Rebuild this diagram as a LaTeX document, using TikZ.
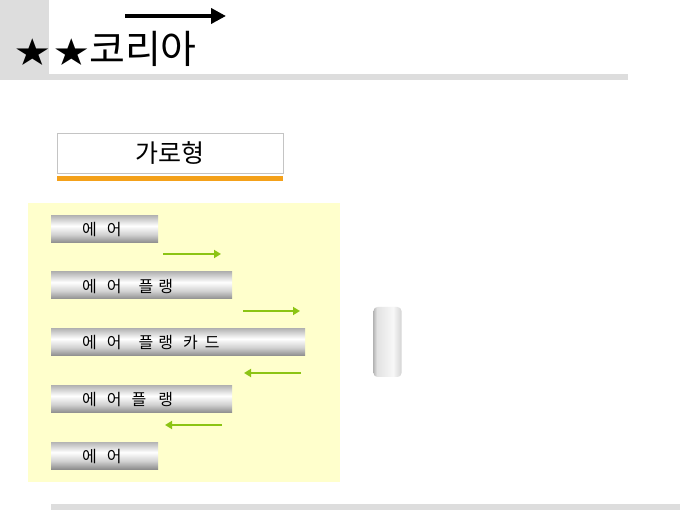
\documentclass[tikz,border=0pt]{standalone}
\usepackage{fontspec}
\newfontfamily\kr{Noto Sans CJK KR}
\newfontfamily\krs[FakeStretch=1.15]{Noto Sans CJK KR}
\usetikzlibrary{arrows.meta}
\definecolor{lgray}{HTML}{DDDDDD}
\definecolor{bgyellow}{HTML}{FFFFCC}
\definecolor{orangebar}{HTML}{F4A11A}
\definecolor{boxline}{HTML}{C4C4C4}
\definecolor{arrgreen}{HTML}{8CC414}
\definecolor{bD}{HTML}{8E8E8E}
\definecolor{bM}{HTML}{D2D2D2}
\definecolor{bT}{HTML}{B4B4B4}
\definecolor{cL}{HTML}{B8B8B8}
\definecolor{cM}{HTML}{E2E2E2}
\definecolor{cR}{HTML}{D4D4D4}
\pgfdeclareverticalshading{barshade}{100bp}{color(0bp)=(bD); color(25bp)=(bD); color(40bp)=(bM); color(56bp)=(white); color(75bp)=(bT); color(100bp)=(bT)}
\pgfdeclarehorizontalshading{cylshade}{100bp}{color(0bp)=(cL); color(25bp)=(cL); color(31bp)=(cM); color(60bp)=(white!97!black); color(75bp)=(cR); color(100bp)=(cR)}
\newcommand{\gp}[1]{\hspace{#1pt}}
\begin{document}
\begin{tikzpicture}[x=1pt,y=-1pt,
  barbox/.style={shading=barshade, draw=none, inner sep=0pt, minimum height=27pt, anchor=west},
  lbl/.style={font=\kr\fontsize{16pt}{18pt}\selectfont, inner sep=0pt, anchor=west},
  garrow/.style={draw=arrgreen, line width=2.5pt, -{Triangle[length=7pt,width=8pt]}}]
\useasboundingbox (0,0) rectangle (680,510);
\fill[white] (0,0) rectangle (680,510);
% header
\fill[lgray] (0,0) rectangle (49,74);
\fill[lgray] (0,74) rectangle (628,80);
\coordinate (ha) at (125,16);
\coordinate (hb) at (226,16);
\draw[line width=4pt, -{Triangle[length=15pt,width=15pt]}] (ha) -- (hb);
\node[anchor=base west, inner sep=0pt] (title) at (15,64) {{\krs\fontsize{30pt}{36pt}\selectfont ★\hspace{5pt}★}{\kr\fontsize{39pt}{42pt}\selectfont 코리아}};
% title box
\node[draw=boxline, line width=0.8pt, minimum width=226pt, minimum height=40pt, inner sep=0pt, font=\kr\fontsize{25pt}{28pt}\selectfont] (hbox) at (170,153) {가로형};
\fill[orangebar] (57,176) rectangle (283,181);
% yellow area
\fill[bgyellow] (28,203) rectangle (340,482);
% bars
\node[barbox, minimum width=107pt] (b1) at (51,229) {};
\node[barbox, minimum width=181pt] (b2) at (51,285.5) {};
\node[barbox, minimum width=254pt] (b3) at (51,342) {};
\node[barbox, minimum width=181pt] (b4) at (51,399) {};
\node[barbox, minimum width=107pt] (b5) at (51,455.5) {};
\node[lbl] (t1) at ([xshift=31pt,yshift=-1pt]b1.west) {에\gp{10}어};
\node[lbl] (t2) at ([xshift=31pt,yshift=-1pt]b2.west) {에\gp{10}어\gp{17}플\gp{5}랭};
\node[lbl] (t3) at ([xshift=31pt,yshift=-1pt]b3.west) {에\gp{10}어\gp{17}플\gp{5}랭\gp{10}카\gp{7}드};
\node[lbl] (t4) at ([xshift=31pt,yshift=-1pt]b4.west) {에\gp{10}어\gp{10}플\gp{12}랭};
\node[lbl] (t5) at ([xshift=31pt,yshift=-1pt]b5.west) {에\gp{10}어};
% green arrows
\coordinate (g1a) at (163,254); \coordinate (g1b) at (221,254);
\coordinate (g2a) at (243,311); \coordinate (g2b) at (300,311);
\coordinate (g3a) at (301,373); \coordinate (g3b) at (244,373);
\coordinate (g4a) at (222,425); \coordinate (g4b) at (165,425);
\draw[garrow] (g1a) -- (g1b);
\draw[garrow] (g2a) -- (g2b);
\draw[garrow] (g3a) -- (g3b);
\draw[garrow] (g4a) -- (g4b);
% cylinder
\node[shading=cylshade, rounded corners=4pt, minimum width=28pt, minimum height=70pt, inner sep=0pt] (cyl) at (387.5,342) {};
% bottom bar
\fill[lgray] (51,504) rectangle (680,510);
\end{tikzpicture}
\end{document}
